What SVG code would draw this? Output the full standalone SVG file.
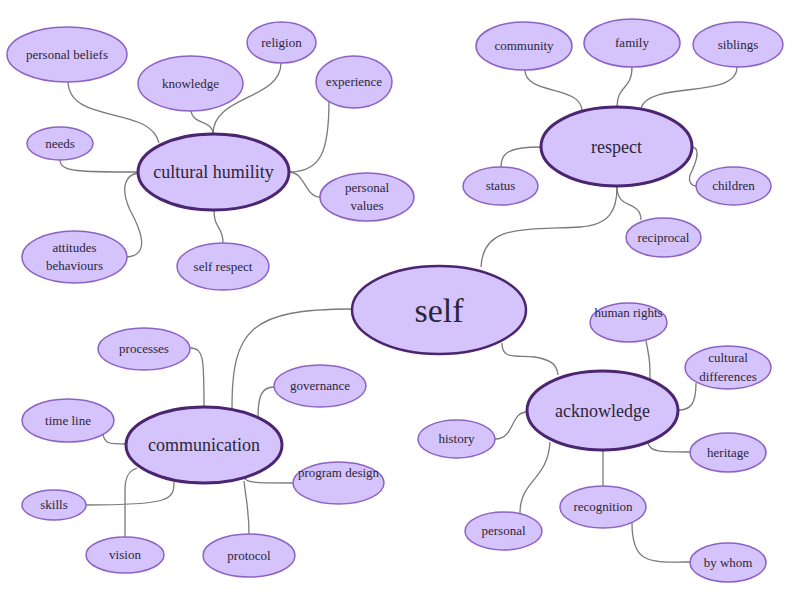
<svg xmlns="http://www.w3.org/2000/svg" width="800" height="593" viewBox="0 0 800 593">
<style>
.leaf ellipse{fill:#d5c4fc;stroke:#8d62c4;stroke-width:1.5}
.hub ellipse{fill:#d5c4fc;stroke:#4b2570;stroke-width:3}
.root ellipse{fill:#d5c4fc;stroke:#4b2570;stroke-width:2.5}
text{font-family:"Liberation Serif","Times New Roman",serif;fill:#2b2638;text-anchor:middle}
.leaf text{font-size:13px}
.hub text{font-size:18px}
.root text{font-size:34px}
#connectors path{fill:none;stroke:#7a7a7a;stroke-width:1.3}
</style>
<rect width="800" height="593" fill="#ffffff"/>
<g id="connectors">
<path d="M68,82 C70,125 150,105 159,143"/>
<path d="M191,111 C193,125 213,120 213,134"/>
<path d="M281,63 C281,100 213,95 213,134"/>
<path d="M329,100 C329,150 322,172 289,172"/>
<path d="M289,172 C305,172 305,197 320,197"/>
<path d="M60,160 C60,172 80,172 138,172"/>
<path d="M127,257 C150,255 142,232 130,210 C120,188 125,175 138,173"/>
<path d="M214,210 C214,230 223,225 223,243"/>
<path d="M525,70 C525,95 580,85 582,110"/>
<path d="M632,67 C632,90 617,85 617,107"/>
<path d="M737,67 C737,100 650,80 641,108"/>
<path d="M541,147 C505,147 501,155 501,167"/>
<path d="M692,147 C702,148 695,165 690,175 C688,182 692,186 696,186"/>
<path d="M617,187 C617,210 641,200 641,220"/>
<path d="M481,267 C483,225 520,230 580,227 C610,225 617,210 617,187"/>
<path d="M352,309 C250,309 232,330 232,408"/>
<path d="M190,348 C204,348 204,360 204,407"/>
<path d="M274,387 C262,387 258,395 258,418"/>
<path d="M103,432 C103,444 110,444 126,444"/>
<path d="M245,478 C245,483 260,483 293,483"/>
<path d="M86,505 C170,505 174,500 174,482"/>
<path d="M125,537 L125,490 C125,475 130,470 137,468"/>
<path d="M244,481 C246,500 249,510 249,534"/>
<path d="M502,343 C502,360 515,355 535,357 C552,360 557,365 558,375"/>
<path d="M646,341 C650,360 650,365 650,379"/>
<path d="M696,383 C696,405 690,410 678,410"/>
<path d="M495,439 C515,439 510,412 527,412"/>
<path d="M648,443 C650,452 660,452 690,452"/>
<path d="M603,450 L603,486"/>
<path d="M550,442 C548,480 520,480 520,513"/>
<path d="M632,523 C632,565 650,562 690,562"/>
</g>
<g id="self" class="root"><ellipse cx="439" cy="310" rx="87" ry="44"/><text x="439" y="322">self</text></g>
<g id="cultural-humility" class="hub"><ellipse cx="213.5" cy="172" rx="75.5" ry="38"/><text x="213.5" y="178">cultural humility</text></g>
<g id="respect" class="hub"><ellipse cx="616.5" cy="146.5" rx="75.5" ry="39.5"/><text x="616.5" y="153">respect</text></g>
<g id="communication" class="hub"><ellipse cx="204" cy="445" rx="78" ry="38"/><text x="204" y="451">communication</text></g>
<g id="acknowledge" class="hub"><ellipse cx="602.5" cy="410.5" rx="75.5" ry="39.5"/><text x="602.5" y="417">acknowledge</text></g>
<g id="personal-beliefs" class="leaf"><ellipse cx="67" cy="54.5" rx="60" ry="27.5"/><text x="67" y="59">personal beliefs</text></g>
<g id="knowledge" class="leaf"><ellipse cx="190.5" cy="83.5" rx="52.5" ry="27.5"/><text x="190.5" y="88">knowledge</text></g>
<g id="religion" class="leaf"><ellipse cx="281.5" cy="42.5" rx="34.5" ry="20.5"/><text x="281.5" y="47">religion</text></g>
<g id="experience" class="leaf"><ellipse cx="354" cy="82" rx="38" ry="26"/><text x="354" y="86">experience</text></g>
<g id="needs" class="leaf"><ellipse cx="60" cy="143.5" rx="33" ry="16.5"/><text x="60" y="148">needs</text></g>
<g id="personal-values" class="leaf"><ellipse cx="367" cy="197" rx="47" ry="24"/><text x="367" y="192">personal</text><text x="367" y="210">values</text></g>
<g id="attitudes-behaviours" class="leaf"><ellipse cx="74.5" cy="257" rx="52.5" ry="26"/><text x="74.5" y="252">attitudes</text><text x="74.5" y="270">behaviours</text></g>
<g id="self-respect" class="leaf"><ellipse cx="223" cy="266.5" rx="46" ry="23.5"/><text x="223" y="271">self respect</text></g>
<g id="community" class="leaf"><ellipse cx="524" cy="46" rx="48" ry="24"/><text x="524" y="50">community</text></g>
<g id="family" class="leaf"><ellipse cx="632" cy="43" rx="48" ry="24"/><text x="632" y="47">family</text></g>
<g id="siblings" class="leaf"><ellipse cx="738" cy="44.5" rx="45" ry="22.5"/><text x="738" y="49">siblings</text></g>
<g id="status" class="leaf"><ellipse cx="500.5" cy="186" rx="37.5" ry="19"/><text x="500.5" y="190">status</text></g>
<g id="children" class="leaf"><ellipse cx="733.5" cy="186" rx="37.5" ry="19"/><text x="733.5" y="190">children</text></g>
<g id="reciprocal" class="leaf"><ellipse cx="663.5" cy="237.5" rx="37.5" ry="19.5"/><text x="663.5" y="242">reciprocal</text></g>
<g id="processes" class="leaf"><ellipse cx="144" cy="349" rx="46" ry="21"/><text x="144" y="353">processes</text></g>
<g id="governance" class="leaf"><ellipse cx="320" cy="386" rx="46" ry="21"/><text x="320" y="390">governance</text></g>
<g id="time-line" class="leaf"><ellipse cx="68" cy="420.5" rx="46" ry="21.5"/><text x="68" y="425">time line</text></g>
<g id="program-design" class="leaf"><ellipse cx="338.5" cy="483" rx="45.5" ry="21"/><text x="338.5" y="477">program design</text></g>
<g id="skills" class="leaf"><ellipse cx="54" cy="505" rx="32" ry="15"/><text x="54" y="509">skills</text></g>
<g id="vision" class="leaf"><ellipse cx="125" cy="555" rx="39" ry="18"/><text x="125" y="559">vision</text></g>
<g id="protocol" class="leaf"><ellipse cx="249" cy="555.5" rx="46" ry="21.5"/><text x="249" y="560">protocol</text></g>
<g id="human-rights" class="leaf"><ellipse cx="628.5" cy="322.5" rx="38.5" ry="19.5"/><text x="628.5" y="317">human rights</text></g>
<g id="cultural-differences" class="leaf"><ellipse cx="728" cy="367.5" rx="43" ry="21.5"/><text x="728" y="362">cultural</text><text x="728" y="381">differences</text></g>
<g id="history" class="leaf"><ellipse cx="456.5" cy="439" rx="38.5" ry="19"/><text x="456.5" y="443">history</text></g>
<g id="heritage" class="leaf"><ellipse cx="728" cy="452.5" rx="38" ry="19.5"/><text x="728" y="457">heritage</text></g>
<g id="recognition" class="leaf"><ellipse cx="603" cy="507" rx="43" ry="21"/><text x="603" y="511">recognition</text></g>
<g id="personal" class="leaf"><ellipse cx="503.5" cy="531" rx="38.5" ry="19"/><text x="503.5" y="535">personal</text></g>
<g id="by-whom" class="leaf"><ellipse cx="728" cy="562.5" rx="38" ry="19.5"/><text x="728" y="567">by whom</text></g>
</svg>
